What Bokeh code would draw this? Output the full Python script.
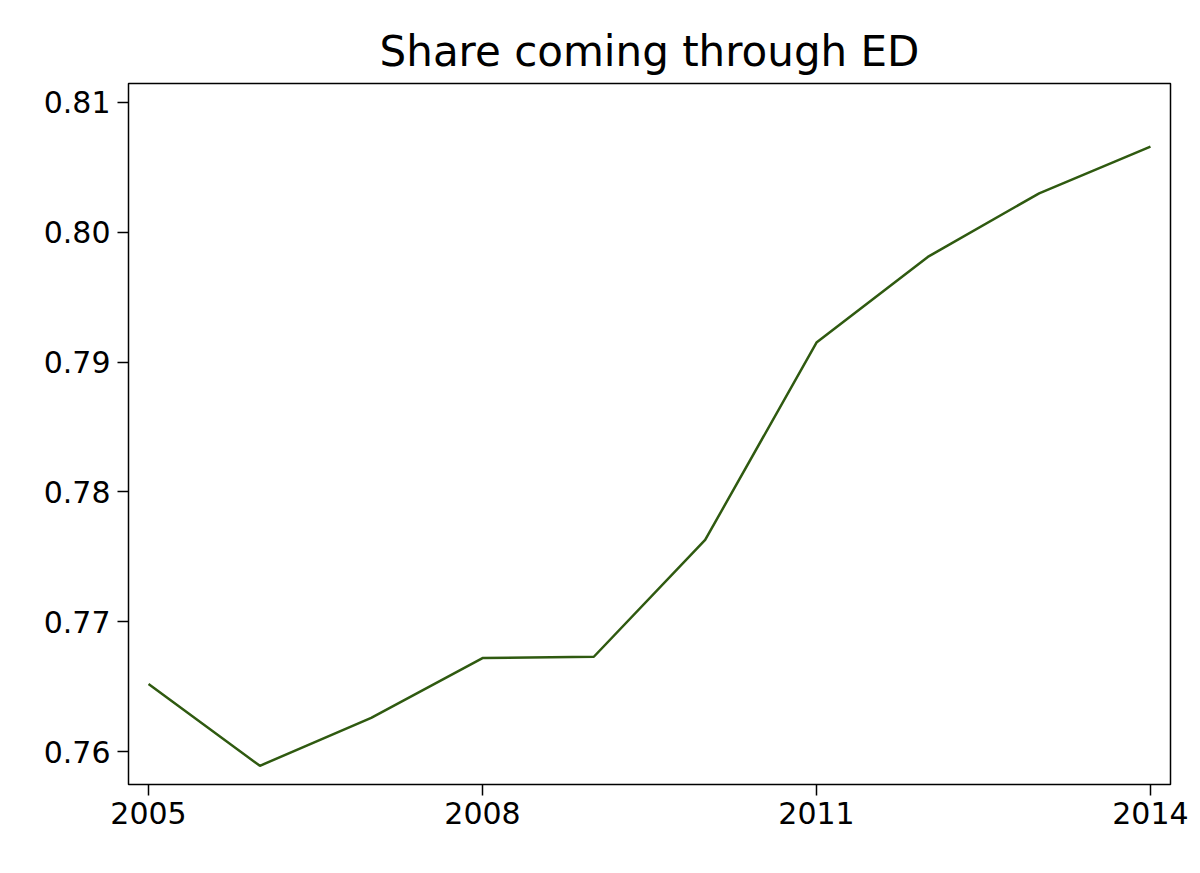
from bokeh.plotting import figure
from bokeh.models import Range1d, FixedTicker, Title
from bokeh.embed import file_html
from bokeh.resources import INLINE

years = [2005, 2006, 2007, 2008, 2009, 2010, 2011, 2012, 2013, 2014]
share = [0.7652, 0.7589, 0.7626, 0.7672, 0.7673, 0.7763, 0.7915, 0.7981, 0.8030, 0.8066]
x_ticks = [2005, 2008, 2011, 2014]
y_ticks = [0.76, 0.77, 0.78, 0.79, 0.80, 0.81]
y_labels = {0.76: "0.76", 0.77: "0.77", 0.78: "0.78", 0.79: "0.79", 0.80: "0.80", 0.81: "0.81"}

W, H = 1192, 865
p = figure(width=W, height=H, output_backend="svg", toolbar_location=None,
           x_range=Range1d(2004.82, 2014.18), y_range=Range1d(0.75746, 0.81146))
p.min_border_left = 128
p.min_border_right = 22
p.min_border_top = 83
p.min_border_bottom = 81

p.title = Title(text="Share coming through ED", align="center",
                text_font="DejaVu Sans", text_font_size="42px",
                text_font_style="normal", text_color="black", offset=0, standoff=16)

p.line(years, share, line_color="#2f5a10", line_width=2.5)

p.xgrid.visible = False
p.ygrid.visible = False
p.outline_line_color = "black"
p.outline_line_width = 1.5
p.outline_line_alpha = 1.0

for ax in (p.xaxis[0], p.yaxis[0]):
    ax.axis_line_color = None
    ax.major_tick_line_color = "black"
    ax.major_tick_line_width = 1.5
    ax.major_tick_out = 11
    ax.major_tick_in = 0
    ax.minor_tick_line_color = None
    ax.major_label_text_font = "DejaVu Sans"
    ax.major_label_text_font_size = "30px"
    ax.major_label_text_color = "black"

p.xaxis[0].ticker = FixedTicker(ticks=x_ticks)
p.yaxis[0].ticker = FixedTicker(ticks=y_ticks)
p.yaxis[0].major_label_overrides = y_labels
p.xaxis[0].major_label_standoff = 6
p.yaxis[0].major_label_standoff = 7
p.background_fill_color = "white"
p.border_fill_color = "white"

open("out.html", "w").write(file_html(p, INLINE))
